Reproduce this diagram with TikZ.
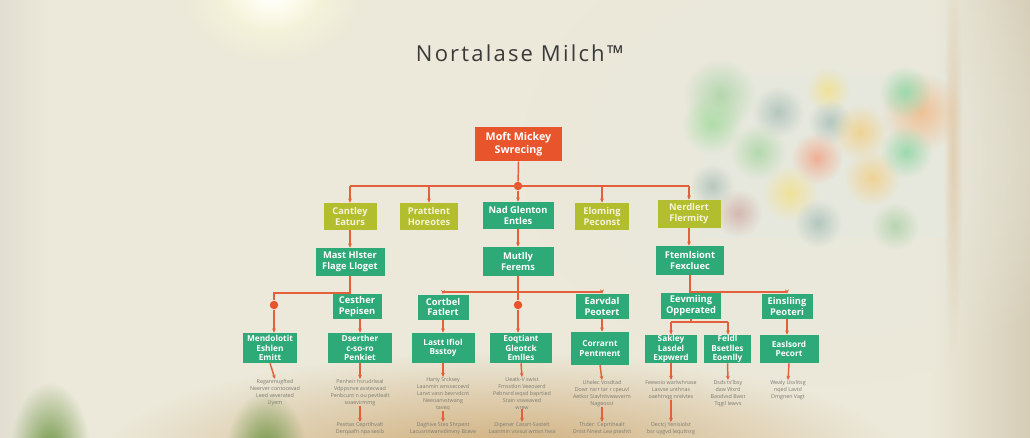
\documentclass[tikz,border=0pt]{standalone}
\usepackage{fontspec}
\setmainfont{Open Sans}
\usetikzlibrary{arrows.meta,fadings}
\definecolor{bg}{HTML}{ECE9DA}
\definecolor{orn}{HTML}{E8542B}
\definecolor{lin}{HTML}{E4603A}
\definecolor{olv}{HTML}{B3BE2E}
\definecolor{grn}{HTML}{2EA978}
\definecolor{ttl}{HTML}{3A3A3A}
\definecolor{notec}{HTML}{7C7A70}
\definecolor{panel}{HTML}{E7E8DD}
\definecolor{olvtext}{HTML}{F6F3D8}
\definecolor{floorc}{HTML}{CDA872}
\definecolor{plantc}{HTML}{6E9545}
\definecolor{edgec}{HTML}{D6CDB6}
\tikzfading[name=blobfade, inner color=transparent!0, outer color=transparent!100]
\begin{document}
\begin{tikzpicture}[x=0.75pt,y=-0.75pt,
  sz/.style 2 args={minimum width=#1*0.75pt, minimum height=#2*0.75pt},
  box/.style={inner sep=0pt, align=center, text=white, font=\fontsize{7}{8.2}\selectfont\bfseries},
  rootbox/.style={box, fill=orn, font=\fontsize{8}{9.5}\selectfont\bfseries},
  obox/.style={box, fill=olv, text=olvtext},
  gbox/.style={box, fill=grn},
  sbox/.style={box, fill=grn, font=\fontsize{6.2}{7.2}\selectfont\bfseries},
  dot/.style={circle, fill=orn, inner sep=0pt, minimum size=8.5*0.75pt},
  ln/.style={draw=lin, line width=1.1pt},
  arr/.style={ln, -{Stealth[length=3.2pt,width=2.8pt]}},
  notetext/.style={align=center, text=notec, inner sep=0pt, font=\fontsize{4}{5.2}\selectfont},
  blob/.style={path fading=blobfade},
]
% ---------- background ----------
\fill[bg] (0,0) rectangle (1030,438);
\useasboundingbox (0,0) rectangle (1030,438);
\shade[left color=bg, right color=edgec] (930,0) rectangle (1030,438);
\shade[left color=bg!90!gray, right color=bg] (0,0) rectangle (50,438);
\fill[yellow!15!white, blob] (272,-8) ellipse (90 and 70);
\fill[white, blob] (272,-8) ellipse (50 and 40);
\fill[floorc, blob] (500,462) ellipse (400 and 110);
% blurred wall art
\fill[panel, blob] (822,156) ellipse (300 and 230);
\fill[panel] (700,75) rectangle (948,238);
\fill[bg!75!brown, blob] (953,157) ellipse (10 and 200);
\foreach \x/\y/\c/\r in {720/95/gray!60!green/36, 712/124/green!55!gray/30, 778/112/teal!45!gray/26,
  828/90/yellow!70!orange/22, 830/122/teal!45!gray/22, 860/132/orange!70!yellow/28,
  921/112/orange!85!red/40, 905/92/teal!55!green/26, 817/158/red!55!orange/26,
  872/178/orange!70!yellow/28, 790/193/yellow!70!orange/28, 758/152/green!45!gray/28,
  906/152/teal!55!green/26, 818/223/teal!45!gray/24, 738/213/red!35!gray/24, 712/186/teal!35!gray/22,
  895/226/green!35!gray/24}
  { \fill[\c!32!panel, blob] (\x,\y) circle (\r); }
% plants
\fill[plantc, blob] (50,452) ellipse (40 and 70);
\fill[plantc, blob] (266,452) ellipse (40 and 60);

% ---------- title ----------
\node[text=ttl, font=\fontsize{16.5}{19}\selectfont\addfontfeature{LetterSpace=10}] (title) at (520,53) {Nortalase Milch™};

% ---------- root ----------
\node[rootbox, sz={87}{34}] (root) at (518.5,144) {Moft Mickey\\Swrecing};
\node[dot] (d0) at (518,186) {};
\coordinate (h0l) at (350,186);
\coordinate (hb) at (429,186);
\coordinate (hd) at (602,186);
\coordinate (h0r) at (689,186);

% ---------- level 1 ----------
\node[obox, sz={53}{27}] (A) at (350,216.5) {Cantley\\Eaturs};
\node[obox, sz={58}{27}] (B) at (429,216.5) {Prattlent\\Horeotes};
\node[gbox, sz={71}{27}] (C) at (518,215.5) {Nad Glenton\\Entles};
\node[obox, sz={54}{27}] (D) at (602,216.5) {Eloming\\Peconst};
\node[obox, sz={63}{28}] (E) at (689,214) {Nerdlert\\Flermity};

\draw[ln] (root.south) -- (d0);
\draw[ln] (h0l) -- (h0r);
\draw[arr] (h0l) -- (h0l |- A.north);
\draw[arr] (hb) -- (hb |- B.north);
\draw[arr] (d0) -- (C.north);
\draw[arr] (hd) -- (hd |- D.north);
\draw[arr] (h0r) -- (h0r |- E.north);

% ---------- level 2 ----------
\node[gbox, sz={69}{28}] (F) at (350,262) {Mast Hlster\\Flage Lloget};
\node[gbox, sz={71}{29}] (G) at (518,261.5) {Mutlly\\Ferems};
\node[gbox, sz={68}{29}] (H) at (690,260.5) {Ftemlsiont\\Fexcluec};
\draw[arr] (A.south) -- (A.south |- F.north);
\draw[arr] (C.south) -- (C.south |- G.north);
\draw[arr] (E.south) -- (E.south |- H.north);

% ---------- level 3 ----------
\node[gbox, sz={49}{25}] (I) at (357,306.5) {Cesther\\Pepisen};
\node[gbox, sz={51}{25}] (J) at (443,307) {Cortbel\\Fatlert};
\node[gbox, sz={53}{25}] (K) at (602,306.5) {Earvdal\\Peotert};
\node[gbox, sz={60}{26}] (L) at (691,306) {Eevmiing\\Opperated};
\node[gbox, sz={51}{25}] (M) at (787,306.5) {Einsliing\\Peoteri};

\coordinate (f1) at (350,293);
\coordinate (f2) at (274,293);
\node[dot] (d1) at (274,305) {};
\draw[ln] (F.south) -- (F.south |- I.north);
\draw[ln] (f1) -- (f2) -- (d1);

\coordinate (gl) at (443,292);
\coordinate (gr) at (602,292);
\node[dot] (d2) at (518,305) {};
\draw[ln] (G.south) -- (d2);
\draw[ln] (gl) -- (gr);
\draw[arr] (gl) -- (gl |- J.north);
\draw[arr] (gr) -- (gr |- K.north);

\coordinate (hl) at (690,292);
\coordinate (hr) at (787,292);
\draw[ln] (H.south) -- (H.south |- L.north);
\draw[ln] (hl) -- (hr);
\draw[arr] (hr) -- (hr |- M.north);

% ---------- level 4 ----------
\node[sbox, sz={54}{30}] (N) at (270,348) {Mendolotit\\Eshlen\\Emitt};
\node[sbox, sz={64}{30}] (O) at (360,348) {Dserther\\c-so-ro\\Penkiet};
\node[sbox, sz={63}{30}] (P) at (443,348) {Lastt Ifiol\\Bsstoy};
\node[sbox, sz={62}{30}] (Q) at (521,348) {Eoqtiant\\Gleotck\\Emlles};
\node[sbox, sz={58}{33}] (R) at (600,348.5) {Corrarnt\\Pentment};
\node[sbox, sz={52}{28}] (S) at (671,349) {Sakley\\Lasdel\\Expwerd};
\node[sbox, sz={47}{28}] (T) at (727.5,349) {Feldl\\Bsetlles\\Eoenlly};
\node[sbox, sz={59}{28}] (U) at (789,349) {Easlsord\\Pecort};

\draw[arr] (d1) -- (d1 |- N.north);
\draw[arr] (O.north |- I.south) -- (O.north);
\draw[arr] (J.south) -- (J.south |- P.north);
\draw[arr] (d2) -- (d2 |- Q.north);
\draw[arr] (K.south) -- (K.south |- R.north);
\coordinate (l1) at (671,322);
\coordinate (l2) at (728,322);
\draw[ln] (L.south) -- (L.south |- l1);
\draw[ln] (l1) -- (l2);
\draw[arr] (l1) -- (l1 |- S.north);
\draw[arr] (l2) -- (l2 |- T.north);
\draw[arr] (M.south) -- (M.south |- U.north);

% ---------- notes ----------
\node[notetext, anchor=north] (n1) at (275,379) {Reganmugfted\\Neerver contocevad\\Leed veverated\\Uyem};
\node[notetext, anchor=north] (o1) at (360,379) {Penheir hsrudrlwal\\Vdppsnve avstecwad\\Penbcunt n ou pevtlealt\\soaevirmmg};
\node[notetext, anchor=north] (p1) at (443,377) {Harty Srcksey\\Laanmin wnsseccevd\\Lanvt vasn bevrvdcnt\\Neeoanvstwang\\taveq};
\node[notetext, anchor=north] (q1) at (522,377) {Ueatk-V swist\\Fmsstlon Veeoverd\\Pebnvrd wqsd baprtied\\Stain vsweaved\\wrew};
\node[notetext, anchor=north] (r1) at (602,380) {Uhelec Vosdtad\\Dowr nsrr tar r cpeuvl\\Aetksr Siavhttvwwverm\\Nageosst};
\node[notetext, anchor=north] (s1) at (671,380) {Feewsio warlwhnase\\Lasvse unthnas\\oaehtnqg nrelvtes};
\node[notetext, anchor=north] (t1) at (728,380) {Dsds ts'lbsy\\daw Wxrd\\Baodvsd Bwst\\Tqgil Iewvs};
\node[notetext, anchor=north] (u1) at (788,380) {Wealy Usvlitsg\\nqed Lavtd\\Dmgnen Vagt};
\foreach \b/\n in {N/n1, O/o1, P/p1, Q/q1, R/r1, S/s1, T/t1, U/u1}
  { \draw[arr] (\b.south) -- (\n.north); }

\node[notetext, anchor=north] (o2) at (360,422) {Pesttas Ceprtlhvalt\\Derqaafn npa sesib};
\node[notetext, anchor=north] (p2) at (443,422) {Daghive Stes Shrpent\\Lacusnnwanvdinvny Bceve};
\node[notetext, anchor=north] (q2) at (522,422) {Dipener Cassrt-Sastelt\\Laanmin vsvsut wmsn hwa};
\node[notetext, anchor=north] (r2) at (602,422) {Thder: Ceprtihealt\\Drsst Nnest Lea pteshtt};
\node[notetext, anchor=north] (s2) at (671,422) {Dectcj Yenisiolst\\bsr uygvd lequttsrg};
\foreach \a/\b in {o1/o2, p1/p2, q1/q2, r1/r2, s1/s2}
  { \draw[arr] (\a.south) -- (\b.north); }
\end{tikzpicture}
\end{document}
